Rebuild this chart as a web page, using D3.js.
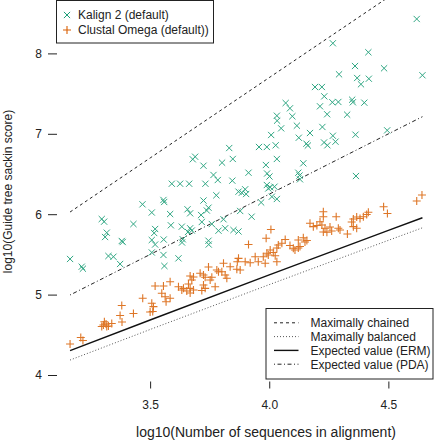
<!DOCTYPE html>
<html>
<head>
<meta charset="utf-8">
<script src="https://cdn.jsdelivr.net/npm/d3@7"></script>
<style>
  html, body { margin: 0; padding: 0; background: #fff; }
  svg { display: block; font-family: "Liberation Sans", Arial, Helvetica, sans-serif; }
</style>
</head>
<body>
<svg id="chart" width="437" height="440"></svg>
<script>
// ---------------- data ----------------
const kalignX = [3.164,3.213,3.218,3.297,3.307,3.318,3.311,3.325,3.346,3.374,3.381,3.385,3.430,3.468,
  3.507,3.507,3.507,3.521,3.517,3.521,3.556,3.559,3.557,3.556,3.560,3.584,3.587,3.591,3.626,3.664,
  3.633,3.637,3.634,3.619,3.657,3.668,3.668,3.675,3.659,3.679,3.689,3.724,3.732,3.724,3.714,3.717,
  3.745,3.738,3.759,3.745,3.746,3.766,3.784,3.778,3.787,3.802,3.808,3.815,3.832,3.847,3.845,3.850,
  3.871,3.871,3.885,3.899,3.903,3.878,3.913,3.926,3.957,3.966,3.986,3.990,3.990,3.991,4.001,4.004,
  4.022,3.996,4.008,4.011,4.032,4.027,4.032,4.032,4.033,4.050,4.069,4.087,4.097,4.116,4.124,4.122,
  4.127,4.129,4.143,4.156,4.162,4.171,4.192,4.221,4.213,4.223,4.231,4.230,4.243,4.244,4.265,4.267,
  4.267,4.278,4.290,4.293,4.327,4.348,4.351,4.360,4.362,4.364,4.369,4.385,4.399,4.416,4.418,4.482,
  4.495,4.619,4.643];
const kalignY = [5.443,5.347,5.322,5.940,5.907,5.770,5.716,5.480,5.471,5.381,5.667,5.654,5.878,6.123,
  6.021,5.679,5.524,5.816,5.766,5.623,6.177,6.152,5.685,5.493,5.356,6.002,5.862,6.379,6.379,6.379,
  5.845,5.688,5.648,5.451,6.061,6.011,5.825,5.797,5.779,6.683,6.715,6.603,6.379,6.170,5.990,5.903,
  6.081,6.046,5.878,5.670,5.623,6.488,6.425,6.235,5.795,6.641,5.937,5.825,6.823,6.687,6.417,5.803,
  5.785,6.280,6.267,6.310,6.251,6.040,6.516,5.969,6.836,6.146,6.612,6.836,6.363,6.506,6.469,6.335,
  6.342,6.320,6.985,6.218,6.189,6.857,6.687,7.225,7.163,7.068,7.383,7.317,7.218,7.101,6.951,6.516,
  6.481,6.434,6.633,6.877,6.854,7.010,7.582,7.582,7.342,7.085,7.466,6.892,7.243,6.857,7.392,8.126,
  6.976,6.902,7.396,7.740,7.238,7.424,7.392,7.843,6.989,6.475,7.694,7.616,7.387,8.014,7.685,7.815,
  7.043,8.428,7.728];

const clustalX = [3.164,3.209,3.218,3.297,3.304,3.308,3.315,3.318,3.325,3.339,3.381,3.374,3.382,3.430,
  3.469,3.507,3.514,3.511,3.500,3.521,3.556,3.549,3.563,3.567,3.584,3.584,3.619,3.633,3.640,3.654,
  3.668,3.682,3.661,3.668,3.668,3.682,3.675,3.710,3.724,3.731,3.724,3.731,3.717,3.745,3.759,3.752,
  3.773,3.780,3.787,3.801,3.808,3.815,3.822,3.836,3.864,3.878,3.871,3.866,3.899,3.920,3.913,3.954,
  3.941,3.975,3.983,3.990,3.996,3.987,4.007,4.004,4.017,4.025,4.032,4.032,4.038,4.053,4.067,4.087,
  4.101,4.108,4.122,4.129,4.122,4.143,4.158,4.150,4.171,4.185,4.200,4.213,4.221,4.227,4.227,4.234,
  4.242,4.227,4.255,4.262,4.281,4.290,4.297,4.328,4.346,4.353,4.367,4.381,4.395,4.409,4.416,4.353,
  4.367,4.480,4.496,4.619,4.641];
const clustalY = [4.386,4.466,4.429,4.603,4.622,4.663,4.634,4.603,4.609,4.641,4.864,4.740,4.659,4.765,
  4.954,4.892,4.850,4.790,4.784,5.107,5.107,5.016,4.974,4.912,4.954,5.160,5.098,5.057,5.078,5.045,
  5.078,5.057,5.132,5.020,5.231,5.219,5.182,5.265,5.244,5.215,5.119,5.078,5.051,5.343,5.215,5.182,
  5.098,5.306,5.285,5.285,5.389,5.244,5.203,5.347,5.315,5.306,5.451,5.409,5.409,5.397,5.623,5.409,
  5.471,5.471,5.389,5.514,5.493,5.700,5.810,5.555,5.524,5.484,5.409,5.580,5.617,5.638,5.685,5.611,
  5.576,5.555,5.580,5.598,5.679,5.708,5.673,5.654,5.887,5.845,5.859,5.907,5.866,6.031,5.969,5.825,
  5.775,5.779,5.841,5.791,5.969,5.825,5.803,5.754,5.903,5.940,5.965,5.947,5.969,5.996,6.024,5.845,
  5.825,6.093,6.009,6.164,6.239];

// reference curves
const lineX        = [3.164, 3.5, 4.0, 4.5, 4.643];
const maxChained   = [6.027, 6.699, 7.699, 8.699, 8.985];
const maxBalanced  = [4.186, 4.566, 5.124, 5.675, 5.831];
const expectedERM  = [4.302, 4.684, 5.245, 5.798, 5.956];
const expectedPDA  = [4.995, 5.499, 6.249, 6.999, 7.213];

const xTicks = [3.5, 4.0, 4.5];
const xTickLabels = ["3.5", "4.0", "4.5"];
const yTicks = [4, 5, 6, 7, 8];
const yTickLabels = ["4", "5", "6", "7", "8"];

const seriesNames = ["Kalign 2 (default)", "Clustal Omega (default))"];
const seriesColors = ["#1B9E77", "#D95F02"];
const lineNames = ["Maximally chained", "Maximally balanced", "Expected value (ERM)", "Expected value (PDA)"];

const xTitle = "log10(Number of sequences in alignment)";
const yTitle = "log10(Guide tree sackin score)";

// ---------------- drawing ----------------
const svg = d3.select("#chart");
const x = d3.scaleLinear().domain([3.105, 4.702]).range([56, 436.5]);
const y = d3.scaleLinear().domain([4, 8]).range([375, 53.4]);

const lineStyles = [
  {data: maxChained,  dash: "3,3",     color: "#222", width: 1},
  {data: maxBalanced, dash: "1,2",     color: "#555", width: 1},
  {data: expectedERM, dash: null,      color: "#111", width: 1.4},
  {data: expectedPDA, dash: "1,2.5,4,2.5", color: "#222", width: 1}
];
const lineGen = d3.line().x(d => x(d[0])).y(d => y(d[1]));
lineStyles.forEach(ls => {
  svg.append("path")
    .attr("d", lineGen(lineX.map((v, i) => [v, ls.data[i]])))
    .attr("fill", "none")
    .attr("stroke", ls.color)
    .attr("stroke-width", ls.width)
    .attr("stroke-dasharray", ls.dash);
});

// points
const cross = 3.1, plus = 4.0;
function drawX(g, cx, cy, col) {
  g.append("path")
    .attr("d", `M${cx-cross},${cy-cross}L${cx+cross},${cy+cross}M${cx-cross},${cy+cross}L${cx+cross},${cy-cross}`)
    .attr("stroke", col).attr("stroke-width", 1).attr("fill", "none");
}
function drawPlus(g, cx, cy, col) {
  g.append("path")
    .attr("d", `M${cx-plus},${cy}L${cx+plus},${cy}M${cx},${cy-plus}L${cx},${cy+plus}`)
    .attr("stroke", col).attr("stroke-width", 1.1).attr("fill", "none");
}
const gK = svg.append("g").attr("opacity", 0.9);
kalignX.forEach((v, i) => drawX(gK, x(v), y(kalignY[i]), seriesColors[0]));
const gC = svg.append("g").attr("opacity", 0.85);
clustalX.forEach((v, i) => drawPlus(gC, x(v), y(clustalY[i]), seriesColors[1]));

// axes (ticks only, no axis line)
const xAxis = d3.axisBottom(x).tickValues(xTicks).tickFormat((d, i) => xTickLabels[i]).tickSize(7).tickPadding(12);
const gx = svg.append("g").attr("transform", "translate(0,381.5)").call(xAxis);
gx.select(".domain").remove();
gx.selectAll("line").attr("stroke", "#222");
gx.selectAll("text").attr("font-size", 12).attr("fill", "#222").attr("font-family", "Liberation Sans, Arial, sans-serif");

const yAxis = d3.axisLeft(y).tickValues(yTicks).tickFormat((d, i) => yTickLabels[i]).tickSize(9).tickPadding(6);
const gy = svg.append("g").attr("transform", "translate(57,0)").call(yAxis);
gy.select(".domain").remove();
gy.selectAll("line").attr("stroke", "#222");
gy.selectAll("text").attr("font-size", 12).attr("fill", "#222").attr("font-family", "Liberation Sans, Arial, sans-serif");

// axis titles
svg.append("text").attr("x", 266).attr("y", 437).attr("text-anchor", "middle")
  .attr("font-size", 14).attr("fill", "#222").text(xTitle);
svg.append("text").attr("transform", "translate(12,191.5) rotate(-90)").attr("text-anchor", "middle")
  .attr("font-size", 12).attr("fill", "#222").text(yTitle);

// legend 1
svg.append("rect").attr("x", 56.5).attr("y", 0.5).attr("width", 157).attr("height", 42.5)
  .attr("fill", "#fff").attr("stroke", "#222").attr("stroke-width", 1);
[0, 1].forEach(i => {
  const cy = 15 + i * 15;
  if (i === 0) drawX(svg, 67, cy, seriesColors[0]); else drawPlus(svg, 67, cy, seriesColors[1]);
  svg.append("text").attr("x", 78).attr("y", cy + 4.3).attr("font-size", 12).attr("fill", "#222").text(seriesNames[i]);
});

// legend 2
svg.append("rect").attr("x", 266).attr("y", 308.5).attr("width", 167).attr("height", 70.5)
  .attr("fill", "#fff").attr("stroke", "#222").attr("stroke-width", 1);
lineStyles.forEach((ls, i) => {
  const cy = 322.8 + i * 13.8;
  svg.append("line").attr("x1", 274).attr("x2", 298.5).attr("y1", cy).attr("y2", cy)
    .attr("stroke", ls.color).attr("stroke-width", ls.width).attr("stroke-dasharray", ls.dash);
  svg.append("text").attr("x", 310.5).attr("y", cy + 4.3).attr("font-size", 12).attr("fill", "#222").text(lineNames[i]);
});
</script>
</body>
</html>
